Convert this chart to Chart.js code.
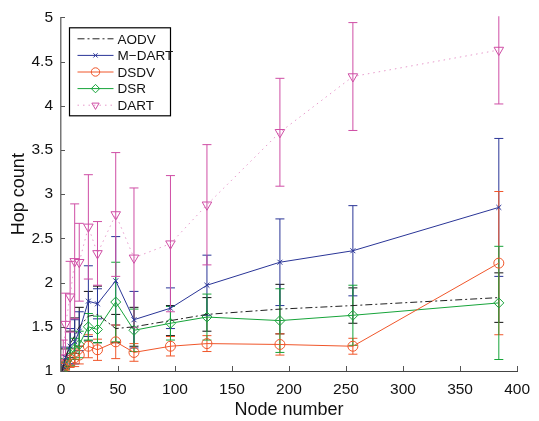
<!DOCTYPE html>
<html>
<head>
<meta charset="utf-8">
<script src="https://cdn.jsdelivr.net/npm/chart.js@4/dist/chart.umd.min.js"></script>
<style>
  html, body { margin: 0; padding: 0; background: #fff; }
  #wrap { width: 539px; height: 421px; }
</style>
</head>
<body>
<div id="wrap"><canvas id="hopChart" width="539" height="421"></canvas></div>
<script>
const nodes = [1, 2, 4, 8, 12, 16, 24, 32, 48, 64, 96, 128, 192, 256, 384];

const aodv = [1.0, 1.05, 1.15, 1.3, 1.4, 1.5, 1.62, 1.64, 1.48, 1.5, 1.57, 1.64, 1.7, 1.74, 1.83];
const aodvErr = [0, 0.05, 0.1, 0.15, 0.2, 0.22, 0.28, 0.32, 0.16, 0.22, 0.17, 0.19, 0.28, 0.2, 0.28];

const mdart = [1.0, 1.05, 1.15, 1.28, 1.33, 1.45, 1.79, 1.76, 2.02, 1.58, 1.71, 1.97, 2.23, 2.36, 2.85];
const mdartErr = [0, 0.05, 0.12, 0.2, 0.25, 0.22, 0.4, 0.17, 0.5, 0.32, 0.23, 0.34, 0.49, 0.51, 0.78];

const dsdv = [1.0, 1.03, 1.07, 1.12, 1.15, 1.18, 1.28, 1.24, 1.33, 1.21, 1.28, 1.31, 1.3, 1.28, 2.22];
const dsdvErr = [0, 0.03, 0.06, 0.08, 0.1, 0.1, 0.13, 0.12, 0.19, 0.1, 0.11, 0.09, 0.12, 0.09, 0.81];

const dsr = [1.0, 1.04, 1.08, 1.16, 1.25, 1.3, 1.5, 1.47, 1.78, 1.46, 1.54, 1.61, 1.57, 1.63, 1.77];
const dsrErr = [0, 0.04, 0.06, 0.1, 0.12, 0.15, 0.15, 0.15, 0.45, 0.24, 0.19, 0.26, 0.36, 0.34, 0.64];

const dart = [1.0, 1.15, 1.53, 1.84, 2.24, 2.23, 2.63, 2.33, 2.77, 2.28, 2.44, 2.88, 3.7, 4.33, 4.63];
const dartErr = [0, 0.2, 0.35, 0.4, 0.65, 0.44, 0.59, 0.36, 0.7, 0.79, 0.77, 0.68, 0.61, 0.61, 0.61];

const xTicks = [0, 50, 100, 150, 200, 250, 300, 350, 400];
const yTicks = [1, 1.5, 2, 2.5, 3, 3.5, 4, 4.5, 5];

const FONT = '"Liberation Sans", Arial, Helvetica, sans-serif';

function points(values) {
  return nodes.map((n, i) => ({ x: n, y: values[i] }));
}

function series(label, values, errors, style) {
  return Object.assign({
    label: label,
    data: points(values),
    errors: errors,
    borderWidth: 1,
    tension: 0,
    fill: false,
    pointBackgroundColor: 'rgba(0,0,0,0)',
    pointBorderWidth: 1,
    pointHoverRadius: 0,
  }, style);
}

const datasets = [
  series('AODV', aodv, aodvErr, {
    borderColor: '#222',
    errColor: '#111',
    borderDash: [7, 3, 2, 3],
    pointRadius: 0,
    pointStyle: false,
  }),
  series('M\u2212DART', mdart, mdartErr, {
    borderColor: '#2a3597',
    errColor: '#2a3597',
    pointBorderColor: '#2a3597',
    pointStyle: 'crossRot',
    pointRadius: 3.5,
  }),
  series('DSDV', dsdv, dsdvErr, {
    borderColor: '#f0562a',
    errColor: '#f0562a',
    pointBorderColor: '#f0562a',
    pointStyle: 'circle',
    pointRadius: 5,
  }),
  series('DSR', dsr, dsrErr, {
    borderColor: '#17a43a',
    errColor: '#17a43a',
    pointBorderColor: '#17a43a',
    pointStyle: 'rectRot',
    pointRadius: 5,
  }),
  series('DART', dart, dartErr, {
    borderColor: '#e79acb',
    errColor: '#cf4ea5',
    pointBorderColor: '#cf4ea5',
    borderDash: [1.5, 4],
    pointStyle: 'triangle',
    pointRotation: 180,
    pointRadius: 5.5,
  }),
];

// error bars drawn through the scales
const errorBars = {
  id: 'errorBars',
  beforeDatasetsDraw(chart) {
    const { ctx, chartArea, scales } = chart;
    ctx.save();
    ctx.beginPath();
    ctx.rect(chartArea.left, chartArea.top - 1, chartArea.right - chartArea.left, chartArea.bottom - chartArea.top + 2);
    ctx.clip();
    ctx.lineWidth = 1;
    chart.data.datasets.forEach((ds) => {
      ctx.strokeStyle = ds.errColor;
      ds.data.forEach((p, i) => {
        const e = ds.errors[i];
        if (!e) return;
        const x = scales.x.getPixelForValue(p.x);
        const yTop = scales.y.getPixelForValue(p.y + e);
        const yBot = scales.y.getPixelForValue(p.y - e);
        ctx.beginPath();
        ctx.moveTo(x, yTop);
        ctx.lineTo(x, yBot);
        ctx.moveTo(x - 4.5, yTop);
        ctx.lineTo(x + 4.5, yTop);
        ctx.moveTo(x - 4.5, yBot);
        ctx.lineTo(x + 4.5, yBot);
        ctx.stroke();
      });
    });
    ctx.restore();
  },
};

// inward ticks like the original axes
const innerTicks = {
  id: 'innerTicks',
  afterDraw(chart) {
    const { ctx, chartArea, scales } = chart;
    ctx.save();
    ctx.strokeStyle = '#555';
    ctx.lineWidth = 1;
    ctx.beginPath();
    yTicks.forEach((v) => {
      const y = Math.round(scales.y.getPixelForValue(v)) + 0.5;
      ctx.moveTo(chartArea.left, y);
      ctx.lineTo(chartArea.left + 4, y);
    });
    xTicks.forEach((v) => {
      const x = Math.round(scales.x.getPixelForValue(v)) + 0.5;
      ctx.moveTo(x, chartArea.bottom);
      ctx.lineTo(x, chartArea.bottom - 5);
    });
    ctx.stroke();
    ctx.restore();
  },
};

// boxed legend in the top-left corner
const boxLegend = {
  id: 'boxLegend',
  afterDraw(chart) {
    const { ctx, chartArea } = chart;
    const left = chartArea.left + 8.5;
    const top = chartArea.top + 10.5;
    const w = 101;
    const rowH = 16.6;
    const h = rowH * 5 + 5;
    ctx.save();
    ctx.fillStyle = '#fff';
    ctx.fillRect(left, top, w, h);
    ctx.strokeStyle = '#000';
    ctx.lineWidth = 1.2;
    ctx.strokeRect(left, top, w, h);
    ctx.font = '13.5px ' + FONT;
    ctx.textBaseline = 'middle';
    chart.data.datasets.forEach((ds, i) => {
      const y = top + 11 + i * rowH;
      ctx.save();
      ctx.strokeStyle = ds.borderColor;
      ctx.lineWidth = 1;
      ctx.setLineDash(ds.borderDash || []);
      ctx.beginPath();
      ctx.moveTo(left + 8, y);
      ctx.lineTo(left + 44, y);
      ctx.stroke();
      ctx.restore();
      if (ds.pointStyle) {
        ctx.strokeStyle = ds.pointBorderColor;
        ctx.fillStyle = 'rgba(0,0,0,0)';
        ctx.lineWidth = 1;
        Chart.helpers.drawPoint(ctx, {
          pointStyle: ds.pointStyle,
          radius: ds.pointStyle === 'crossRot' ? 3 : 4.2,
          rotation: ds.pointRotation || 0,
          borderWidth: 1,
        }, left + 26, y);
      }
      ctx.fillStyle = '#111';
      ctx.fillText(ds.label, left + 48, y + 1);
    });
    ctx.restore();
  },
};

new Chart(document.getElementById('hopChart'), {
  type: 'line',
  data: { datasets: datasets },
  options: {
    responsive: false,
    animation: false,
    events: [],
    layout: { padding: { left: 8, top: 11, right: 19, bottom: 0 } },
    plugins: {
      legend: { display: false },
      tooltip: { enabled: false },
    },
    scales: {
      x: {
        type: 'linear',
        min: 0,
        max: 400,
        afterBuildTicks(scale) {
          scale.ticks = xTicks.map((v) => ({ value: v }));
        },
        afterFit(scale) { scale.height = 50; },
        grid: { display: true, drawOnChartArea: false, drawTicks: false },
        border: { display: true, color: '#444', width: 1 },
        ticks: { color: '#111', font: { family: FONT, size: 15.5 }, padding: 9, maxRotation: 0 },
        title: {
          display: true,
          text: 'Node number',
          color: '#111',
          font: { family: FONT, size: 18 },
          padding: { top: 2, bottom: 0 },
        },
      },
      y: {
        type: 'linear',
        min: 1,
        max: 5,
        afterBuildTicks(scale) {
          scale.ticks = yTicks.map((v) => ({ value: v }));
        },
        afterFit(scale) { scale.width = 53; },
        grid: { display: true, drawOnChartArea: false, drawTicks: false },
        border: { display: true, color: '#777', width: 1.5 },
        ticks: {
          color: '#111',
          font: { family: FONT, size: 15.5 },
          padding: 8,
          callback: (v) => String(v),
        },
        title: {
          display: true,
          text: 'Hop count',
          color: '#111',
          font: { family: FONT, size: 18 },
          padding: { top: 0, bottom: 8 },
        },
      },
    },
  },
  plugins: [errorBars, innerTicks, boxLegend],
});
</script>
</body>
</html>
